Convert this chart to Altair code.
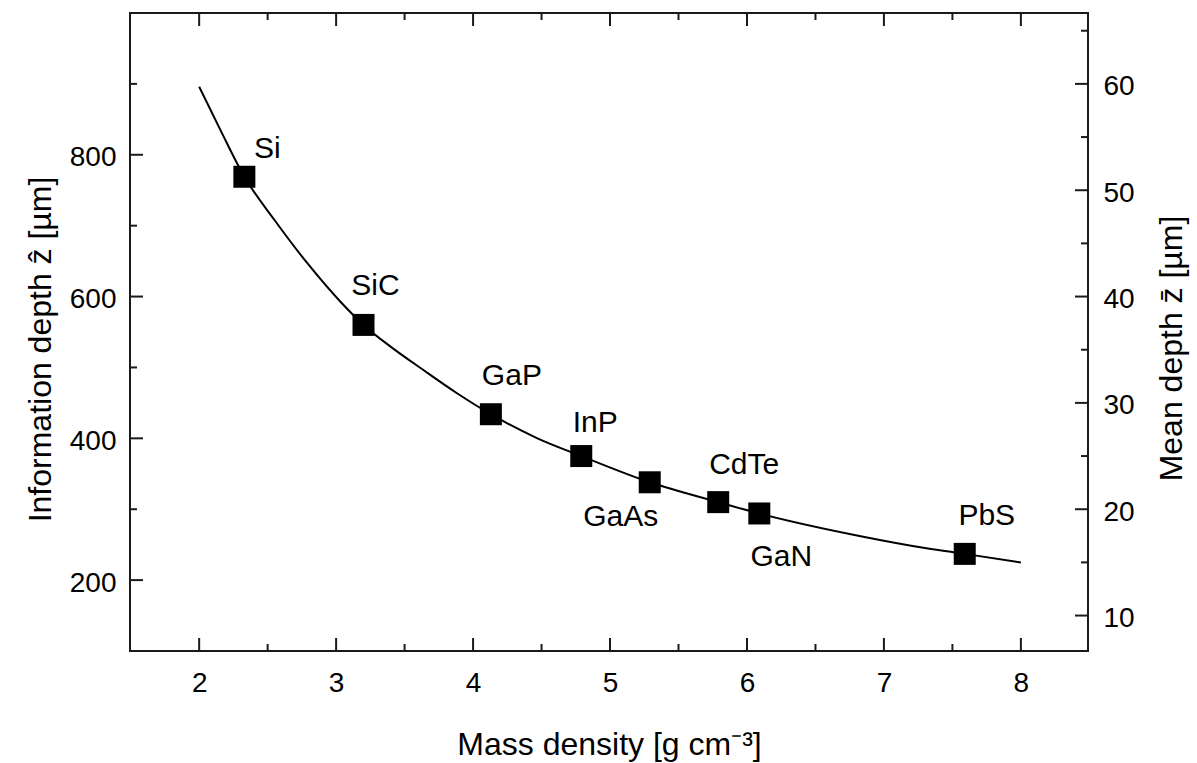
import altair as alt
import pandas as pd

# ---------------- data ----------------
MATERIALS = ["Si", "SiC", "GaP", "InP", "GaAs", "CdTe", "GaN", "PbS"]
DENSITY = [2.33, 3.20, 4.13, 4.79, 5.29, 5.79, 6.09, 7.59]
INFO_DEPTH = [769, 560, 434, 375, 338, 310, 294, 237]

CURVE_DENSITY = [2.00, 2.16, 2.33, 2.55, 2.79, 3.03, 3.20, 3.40, 3.64, 3.88,
                 4.13, 4.47, 4.79, 5.29, 5.79, 6.09, 6.83, 7.31, 7.59, 8.00]
CURVE_DEPTH = [896, 833, 769, 708, 647, 593, 560, 529, 496, 464,
               434, 400, 375, 338, 310, 294, 262, 245, 237, 225]

X_MAJOR = [2, 3, 4, 5, 6, 7, 8]
X_MINOR = [2.5, 3.5, 4.5, 5.5, 6.5, 7.5]
Y_MAJOR = [200, 400, 600, 800]
Y_MINOR = [300, 500, 700, 900]
R_MAJOR = [10, 20, 30, 40, 50, 60]
R_MINOR = [15, 25, 35, 45, 55, 65]

X_TITLE = "Mass density [g cm\u207b\u00b3]"
Y_TITLE = "Information depth \u1e91 [\u00b5m]"
R_TITLE = "Mean depth z\u0304 [\u00b5m]"

# ---------------- styles ----------------
W, H = 958, 638
FONT = "Liberation Sans"
INK = "#1a1a1a"
MAJ, MIN = 13, 7
LABEL_OFFSETS = {"Si": (23, -19), "SiC": (12, -30), "GaP": (21, -29), "InP": (14, -24),
                 "GaAs": (-29, 44), "CdTe": (26, -28), "GaN": (22, 53), "PbS": (22, -29)}

points = pd.DataFrame({"name": MATERIALS, "density": DENSITY, "depth": INFO_DEPTH})
curve = pd.DataFrame({"density": CURVE_DENSITY, "depth": CURVE_DEPTH})

XSCALE = alt.Scale(domain=[1.495, 8.49], nice=False, zero=False)
YSCALE = alt.Scale(domain=[100, 1000], nice=False, zero=False)
RSCALE = alt.Scale(domain=[100 / 15, 1000 / 15], nice=False, zero=False)

common_axis = dict(domain=False, ticks=False, tickSize=0, grid=False,
                   labelFont=FONT, labelFontSize=28, labelColor="black",
                   titleFont=FONT, titleFontSize=32, titleFontWeight="normal",
                   titleColor="black", titleBaseline="alphabetic", titleAlign="center")

XAXIS = alt.Axis(values=X_MAJOR, orient="bottom", title=X_TITLE, labelPadding=40,
                 labelBaseline="alphabetic", titleY=103, titleX=W / 2, format="d",
                 **common_axis)
YAXIS = alt.Axis(values=Y_MAJOR, orient="left", title=Y_TITLE, labelPadding=14,
                 labelOffset=3, titleAngle=270, titleX=-80, titleY=336, format="d",
                 **common_axis)
RAXIS = alt.Axis(values=R_MAJOR, orient="right", title=R_TITLE, labelPadding=15,
                 labelOffset=3, titleAngle=270, titleX=93, titleY=335, format="d",
                 **common_axis)


def xenc(field):
    return alt.X(f"{field}:Q", scale=XSCALE, axis=XAXIS)


def yenc(field):
    return alt.Y(f"{field}:Q", scale=YSCALE, axis=YAXIS)


def renc(field):
    return alt.Y(f"{field}:Q", scale=RSCALE, axis=RAXIS)


def vals(v):
    return pd.DataFrame({"v": v})


line = alt.Chart(curve).mark_line(color="black", strokeWidth=2, interpolate="monotone").encode(
    x=xenc("density"), y=yenc("depth"))

squares = alt.Chart(points).mark_square(size=484, color="black", opacity=1).encode(
    x=xenc("density"), y=yenc("depth"))

labels = []
for n in MATERIALS:
    dx, dy = LABEL_OFFSETS[n]
    labels.append(
        alt.Chart(points).transform_filter(alt.datum.name == n).mark_text(
            font=FONT, fontSize=30, color="black", align="center",
            baseline="alphabetic", dx=dx, dy=dy).encode(
            x=xenc("density"), y=yenc("depth"), text="name:N"))

rule_style = dict(color=INK, strokeWidth=2)

bx_major = alt.Chart(vals(X_MAJOR)).mark_rule(**rule_style).encode(
    x=xenc("v"), y=alt.value(H), y2=alt.value(H - MAJ))
bx_minor = alt.Chart(vals(X_MINOR)).mark_rule(**rule_style).encode(
    x=xenc("v"), y=alt.value(H), y2=alt.value(H - MIN))
tx_major = alt.Chart(vals(X_MAJOR)).mark_rule(**rule_style).encode(
    x=xenc("v"), y=alt.value(0), y2=alt.value(MAJ))
tx_minor = alt.Chart(vals(X_MINOR)).mark_rule(**rule_style).encode(
    x=xenc("v"), y=alt.value(0), y2=alt.value(MIN))
ly_major = alt.Chart(vals(Y_MAJOR)).mark_rule(**rule_style).encode(
    y=yenc("v"), x=alt.value(0), x2=alt.value(MAJ))
ly_minor = alt.Chart(vals(Y_MINOR)).mark_rule(**rule_style).encode(
    y=yenc("v"), x=alt.value(0), x2=alt.value(MIN))

ry_major = alt.Chart(vals(R_MAJOR)).mark_rule(**rule_style).encode(
    y=renc("v"), x=alt.value(W), x2=alt.value(W - MAJ))
ry_minor = alt.Chart(vals(R_MINOR)).mark_rule(**rule_style).encode(
    y=renc("v"), x=alt.value(W), x2=alt.value(W - MIN))

left = alt.layer(bx_major, bx_minor, tx_major, tx_minor, ly_major, ly_minor,
                 line, squares, *labels)
right = alt.layer(ry_major, ry_minor)

chart = alt.layer(left, right).resolve_scale(y="independent").properties(
    width=W, height=H,
    autosize=alt.AutoSizeParams(type="none"),
    padding={"left": 130, "top": 13, "right": 1197 - 130 - W, "bottom": 763 - 13 - H},
    background="white",
).configure_view(stroke=INK, strokeWidth=2)

chart.save("out.html", embed_options={"renderer": "svg", "actions": False})
